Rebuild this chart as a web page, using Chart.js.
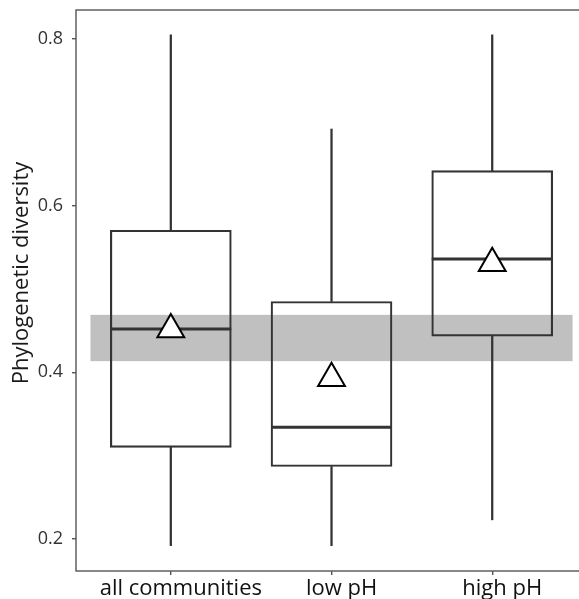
<!DOCTYPE html>
<html>
<head>
<meta charset="utf-8">
<script src="https://cdn.jsdelivr.net/npm/chart.js@4"></script>
<style>
  html, body { margin: 0; padding: 0; background: #fff; overflow: hidden; }
  #wrap { width: 579px; height: 599px; }
</style>
</head>
<body>
<div id="wrap"><canvas id="boxChart" width="579" height="599"></canvas></div>
<script>
// Data
const categories = ["all communities", "low pH", "high pH"];
const positions = [1, 2, 3];
const whiskerLow = [0.192, 0.192, 0.223];
const q1 = [0.310, 0.287, 0.4435];
const medians = [0.452, 0.334, 0.536];
const q3 = [0.5705, 0.485, 0.642];
const whiskerHigh = [0.805, 0.692, 0.805];
const means = [0.4515, 0.393, 0.531];
const band = [0.4134, 0.469];      // grey reference band (y range)
const bandX = [0.5, 3.5];          // band extent along x
const yTicks = [0.2, 0.4, 0.6, 0.8];

const FONT = "'Open Sans', 'Noto Sans', sans-serif";
const lineColor = "#333333";
const frameColor = "#555555";

const pts = (vals) => positions.map((x, i) => ({ x: x, y: vals[i] }));
const ranges = (lo, hi) => positions.map((x, i) => ({ x: x, y: [lo[i], hi[i]] }));

// grey band behind the boxes
const bandPlugin = {
  id: "band",
  beforeDatasetsDraw(chart) {
    const { ctx, scales: { x, y } } = chart;
    const x0 = x.getPixelForValue(bandX[0]);
    const x1 = x.getPixelForValue(bandX[1]);
    const y0 = y.getPixelForValue(band[1]);
    const y1 = y.getPixelForValue(band[0]);
    ctx.save();
    ctx.fillStyle = "#c0c0c0";
    ctx.fillRect(x0, y0, x1 - x0, y1 - y0);
    ctx.restore();
  }
};

// panel frame + rotated y title
const framePlugin = {
  id: "frame",
  afterDraw(chart) {
    const { ctx, chartArea: a } = chart;
    ctx.save();
    ctx.strokeStyle = frameColor;
    ctx.lineWidth = 1.4;
    ctx.strokeRect(a.left, a.top, a.right - a.left + 5, a.bottom - a.top);
    ctx.translate(22, 273);
    ctx.rotate(-Math.PI / 2);
    ctx.fillStyle = "#1a1a1a";
    ctx.font = "22px " + FONT;
    ctx.textAlign = "center";
    ctx.textBaseline = "middle";
    ctx.fillText("Phylogenetic diversity", 0, 0);
    ctx.restore();
  }
};

new Chart(document.getElementById("boxChart"), {
  type: "bar",
  data: {
    datasets: [
      {
        label: "lower whisker",
        data: ranges(whiskerLow, q1),
        backgroundColor: lineColor,
        barThickness: 1.6,
        grouped: false,
        order: 4
      },
      {
        label: "upper whisker",
        data: ranges(q3, whiskerHigh),
        backgroundColor: lineColor,
        barThickness: 1.6,
        grouped: false,
        order: 4
      },
      {
        label: "box",
        data: ranges(q1, q3),
        backgroundColor: "rgba(0,0,0,0)",
        borderColor: lineColor,
        borderWidth: 1.5,
        borderSkipped: false,
        barThickness: 121,
        grouped: false,
        order: 3
      },
      {
        type: "scatter",
        label: "median",
        data: pts(medians),
        pointStyle: "line",
        pointRadius: 60.5,
        borderColor: lineColor,
        borderWidth: 3,
        order: 2
      },
      {
        type: "scatter",
        label: "mean",
        data: pts(means),
        pointStyle: "triangle",
        pointRadius: 15.5,
        backgroundColor: "#ffffff",
        borderColor: "#000000",
        borderWidth: 2,
        order: 1
      }
    ]
  },
  options: {
    responsive: false,
    animation: false,
    layout: { autoPadding: false, padding: { top: 10, right: 0, left: 0, bottom: 0 } },
    plugins: {
      legend: { display: false },
      tooltip: { enabled: false }
    },
    scales: {
      x: {
        type: "linear",
        offset: false,
        min: 0.41,
        max: 3.54,
        afterBuildTicks: (s) => { s.ticks = positions.map((v) => ({ value: v })); },
        afterFit: (s) => { s.height = 28; s.paddingLeft = 0; s.paddingRight = 0; },
        border: { display: false },
        grid: { offset: false, drawOnChartArea: false, drawTicks: true, tickLength: 4, color: frameColor, lineWidth: 1.4 },
        ticks: {
          autoSkip: false,
          maxRotation: 0,
          padding: 1,
          labelOffset: 10,
          color: "#111111",
          font: { family: FONT, size: 22 },
          callback: (v) => categories[positions.indexOf(v)]
        }
      },
      y: {
        min: 0.1616,
        max: 0.8348,
        afterBuildTicks: (s) => { s.ticks = yTicks.map((v) => ({ value: v })); },
        afterFit: (s) => { s.width = 76; s.paddingTop = 0; s.paddingBottom = 0; },
        border: { display: false },
        grid: { drawOnChartArea: false, drawTicks: true, tickLength: 4, color: frameColor, lineWidth: 1.4 },
        ticks: {
          padding: 9,
          color: "#333333",
          font: { family: FONT, size: 18 },
          callback: (v) => v.toFixed(1)
        }
      }
    }
  },
  plugins: [bandPlugin, framePlugin]
});
</script>
</body>
</html>
